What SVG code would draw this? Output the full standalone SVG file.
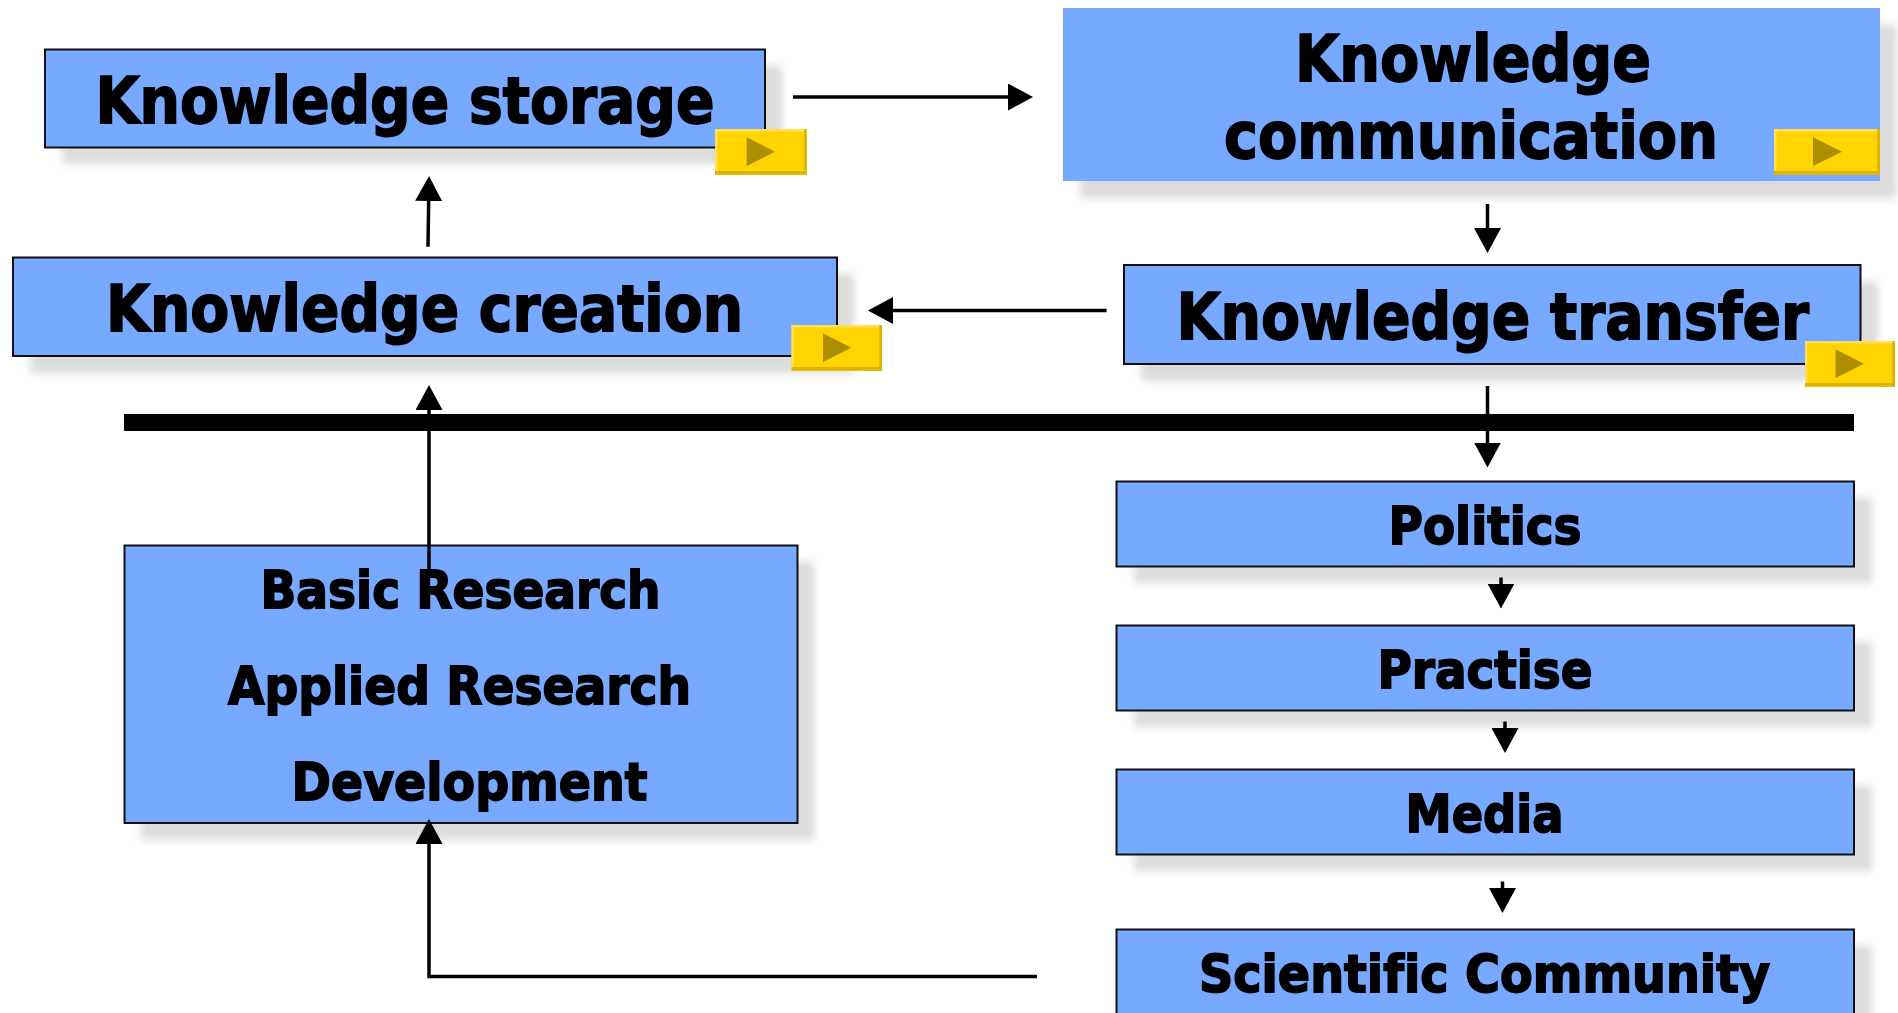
<svg xmlns="http://www.w3.org/2000/svg" width="1898" height="1013" viewBox="0 0 1898 1013">
<style>
text{font-family:"DejaVu Sans","Liberation Sans",sans-serif;font-weight:bold;fill:#000;stroke:#000;stroke-width:1.8;font-variant-ligatures:none}
.t1{font-size:64px}
.t2{font-size:52px}
.box{fill:#76A9FF;stroke:#111;stroke-width:2}
.plain{fill:#76A9FF}
.sh{fill:#dcdcdc;filter:url(#blur)}
.c{fill:none;stroke:#000;stroke-width:3.500;marker-end:url(#head)}
.face{fill:#FFD400}
.top{fill:#FFDF55}
.bot{fill:#DDB500}
.tri{fill:#AD8E00}
</style>
<defs>
<filter id="blur" x="-10%" y="-40%" width="120%" height="180%"><feGaussianBlur stdDeviation="4.500"/></filter>
<marker id="head" markerUnits="userSpaceOnUse" markerWidth="27" markerHeight="27" refX="2" refY="13.500" orient="auto"><path d="M0,0L25,13.500L0,27z" fill="#000"/></marker>
</defs>

<g id="node-knowledge-storage">
<rect class="sh" x="62" y="66" width="720" height="98"/>
<rect class="box" x="45" y="49.500" width="720" height="98"/>
<text class="t1" x="95.500" y="123.300" textLength="619" lengthAdjust="spacingAndGlyphs">Knowledge storage</text>
</g>
<g id="node-knowledge-creation">
<rect class="sh" x="30" y="274" width="824" height="99"/>
<rect class="box" x="13" y="257.500" width="824" height="98.500"/>
<text class="t1" x="106" y="331" textLength="637" lengthAdjust="spacingAndGlyphs">Knowledge creation</text>
</g>
<g id="node-knowledge-communication">
<rect class="sh" x="1080" y="25" width="817" height="173"/>
<rect class="plain" x="1063" y="8" width="817" height="173"/>
<text class="t1" x="1295" y="81" textLength="356" lengthAdjust="spacingAndGlyphs">Knowledge</text>
<text class="t1" x="1224" y="157.700" textLength="494" lengthAdjust="spacingAndGlyphs">communication</text>
</g>
<g id="node-knowledge-transfer">
<rect class="sh" x="1141" y="282" width="737" height="99"/>
<rect class="box" x="1124" y="265" width="736.500" height="99"/>
<text class="t1" x="1176.500" y="339" textLength="632.500" lengthAdjust="spacingAndGlyphs">Knowledge transfer</text>
</g>
<g id="node-research">
<rect class="sh" x="141" y="562" width="673" height="278"/>
<rect class="box" x="124.500" y="545.500" width="673" height="277.500"/>
<text class="t2" x="260.500" y="608" textLength="400" lengthAdjust="spacingAndGlyphs">Basic Research</text>
<text class="t2" x="228" y="704" textLength="463" lengthAdjust="spacingAndGlyphs">Applied Research</text>
<text class="t2" x="291.500" y="800" textLength="356" lengthAdjust="spacingAndGlyphs">Development</text>
</g>
<g id="node-politics">
<rect class="sh" x="1134" y="498" width="738" height="85"/>
<rect class="box" x="1116.500" y="481.500" width="737.500" height="85"/>
<text class="t2" x="1388.500" y="544" textLength="193" lengthAdjust="spacingAndGlyphs">Politics</text>
</g>
<g id="node-practise">
<rect class="sh" x="1134" y="642" width="738" height="85"/>
<rect class="box" x="1116.500" y="625.500" width="737.500" height="85"/>
<text class="t2" x="1377.500" y="688" textLength="215" lengthAdjust="spacingAndGlyphs">Practise</text>
</g>
<g id="node-media">
<rect class="sh" x="1134" y="786" width="738" height="85"/>
<rect class="box" x="1116.500" y="769.500" width="737.500" height="85"/>
<text class="t2" x="1405.500" y="832" textLength="158" lengthAdjust="spacingAndGlyphs">Media</text>
</g>
<g id="node-scientific-community">
<rect class="sh" x="1134" y="946" width="738" height="110"/>
<rect class="box" x="1116.500" y="929.500" width="737.500" height="110"/>
<text class="t2" x="1199" y="992" textLength="571" lengthAdjust="spacingAndGlyphs">Scientific Community</text>
</g>

<g id="divider"><rect x="124" y="414" width="1730" height="17" fill="#000"/></g>

<g id="connectors">
<path class="c" d="M793 97H1010"/>
<path class="c" d="M428 246.700L428.700 199"/>
<path class="c" d="M1106.600 310.500H891"/>
<path class="c" d="M1487.500 204V230"/>
<path class="c" d="M1487.500 386V444.500"/>
<path class="c" d="M1501 577.500V585.500"/>
<path class="c" d="M1505 721.500V730"/>
<path class="c" d="M1502.500 881.500V890"/>
<path class="c" d="M429 570V408"/>
<path class="c" d="M1037 976.500H429V842"/>
</g>

<g id="button-storage">
<rect class="face" x="715" y="129" width="91.700" height="45.700"/>
<rect class="top" x="715" y="129" width="91.700" height="2.500"/>
<rect class="top" x="715" y="129" width="2.500" height="45.700"/>
<rect class="bot" x="715" y="171" width="91.700" height="3.700"/>
<rect class="bot" x="804" y="129" width="2.700" height="45.700"/>
<path class="tri" d="M746.700 137.300V166L775 151.700z"/>
</g>
<g id="button-creation">
<rect class="face" x="791.500" y="325" width="90.500" height="45.700"/>
<rect class="top" x="791.500" y="325" width="90.500" height="2.500"/>
<rect class="top" x="791.500" y="325" width="2.500" height="45.700"/>
<rect class="bot" x="791.500" y="367" width="90.500" height="3.700"/>
<rect class="bot" x="879.300" y="325" width="2.700" height="45.700"/>
<path class="tri" d="M823 333.300V362L851.300 347.700z"/>
</g>
<g id="button-communication">
<rect class="face" x="1774" y="129" width="106" height="45.700"/>
<rect class="top" x="1774" y="129" width="106" height="2.500"/>
<rect class="top" x="1774" y="129" width="2.500" height="45.700"/>
<rect class="bot" x="1774" y="171" width="106" height="3.700"/>
<rect class="bot" x="1877.300" y="129" width="2.700" height="45.700"/>
<path class="tri" d="M1813 137.300V166L1842 151.700z"/>
</g>
<g id="button-transfer">
<rect class="face" x="1805" y="341" width="90" height="45.700"/>
<rect class="top" x="1805" y="341" width="90" height="2.500"/>
<rect class="top" x="1805" y="341" width="2.500" height="45.700"/>
<rect class="bot" x="1805" y="383" width="90" height="3.700"/>
<rect class="bot" x="1892.300" y="341" width="2.700" height="45.700"/>
<path class="tri" d="M1835.500 349.300V378L1864 363.700z"/>
</g>
</svg>
